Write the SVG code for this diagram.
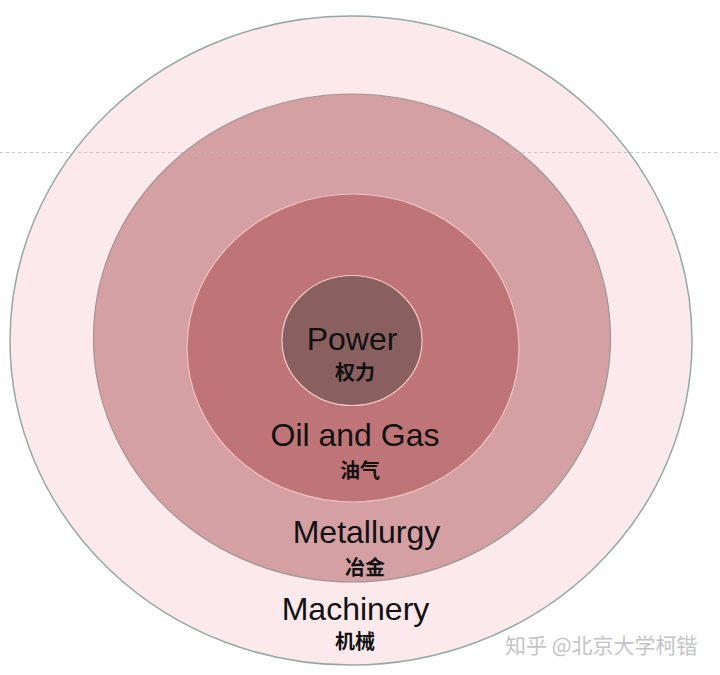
<svg xmlns="http://www.w3.org/2000/svg" width="720" height="675" viewBox="0 0 720 675">
<style>
.en{font-family:"Liberation Sans",Arial,"Noto Sans CJK SC",sans-serif;font-size:32px;fill:#111;text-anchor:middle}
.cn{font-family:"Noto Sans CJK SC","Noto Sans",sans-serif;font-size:20px;font-weight:bold;fill:#111;text-anchor:middle}
.wm{font-family:"Noto Sans CJK SC","Noto Sans",sans-serif;font-size:21px;fill:#c4c4c4}
</style>
<rect width="720" height="675" fill="#ffffff"/>
<g id="machinery">
<ellipse cx="351" cy="340.5" rx="341" ry="324.5" fill="#fce9ec" stroke="#93a9a6" stroke-width="1.5"/>
</g>
<g id="metallurgy">
<ellipse cx="352" cy="338" rx="258.5" ry="244" fill="#d4a0a3" stroke="#a09494" stroke-width="1.2"/>
</g>
<g id="oil-gas">
<ellipse cx="353" cy="348" rx="166" ry="154" fill="#bf7577" stroke="#f1c2c0" stroke-width="1.2"/>
</g>
<g id="power">
<ellipse cx="352" cy="340.5" rx="70" ry="65" fill="#8a5f5f" stroke="#f4c9c4" stroke-width="1.2"/>
</g>
<g id="connectors">
<line x1="0" y1="152.5" x2="720" y2="152.5" stroke="#bdbdbd" stroke-width="1" stroke-dasharray="3,3" opacity="0.8"/>
</g>
<g id="labels">
<text class="en" x="352" y="350">Power</text>
<text class="cn" x="355" y="380">权力</text>
<text class="en" x="355" y="446">Oil and Gas</text>
<text class="cn" x="360" y="478">油气</text>
<text class="en" x="366.5" y="543">Metallurgy</text>
<text class="cn" x="365" y="575">冶金</text>
<text class="en" x="355.5" y="620">Machinery</text>
<text class="cn" x="355" y="649">机械</text>
</g>
<text class="wm" x="505" y="653">知乎 @北京大学柯锴</text>
</svg>
